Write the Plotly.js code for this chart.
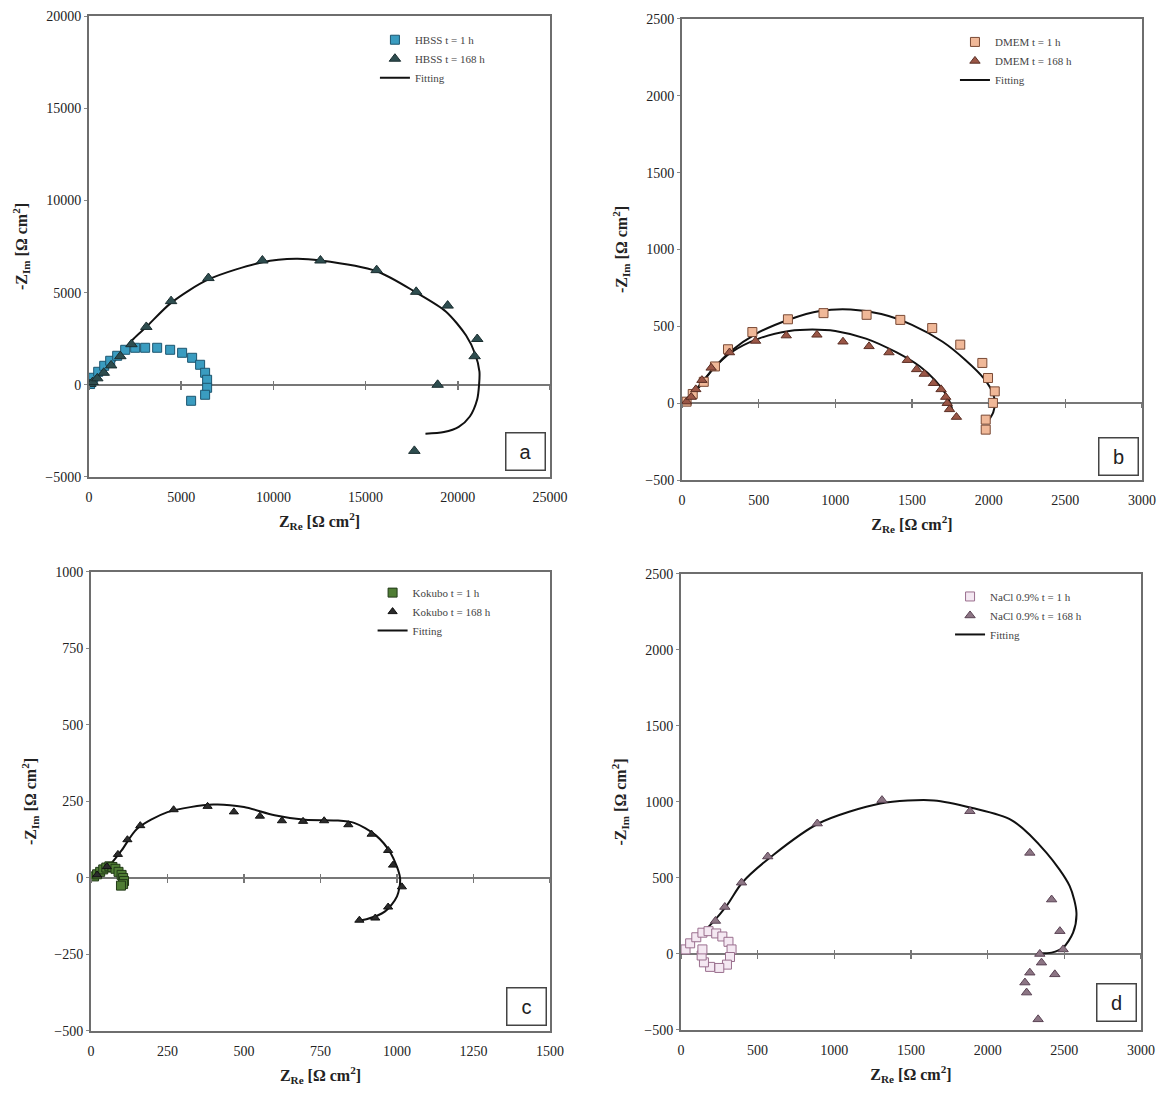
<!DOCTYPE html>
<html><head><meta charset="utf-8">
<script src="https://cdn.plot.ly/plotly-3.0.1.min.js"></script>
<style>body{margin:0;background:#fff}#chart{width:1168px;height:1097px}</style>
</head><body><div id="chart"></div>
<script>
// ---------- Panel a: HBSS ----------
const aSq1hX = [60,130,228,499,824,1149,1528,1962,2504,3045,3696,4400,5050,5592,6026,6297,6405,6405,6297,5538];
const aSq1hY = [40,150,380,705,1030,1302,1573,1898,2007,2007,2007,1898,1735,1464,1085,651,271,-163,-542,-868];
const aTr168X = [60,200,450,800,1200,1700,2300,3108,4451,6476,9403,12551,15599,17744,19449,21053,20912,18907,17644];
const aTr168Y = [40,150,350,650,1050,1550,2200,3137,4537,5788,6740,6740,6217,5041,4294,2483,1550,0,-3585];
const aFitX = [0,1203,2406,3108,4451,6476,9403,11228,12551,15599,17744,19348,20451,20952,21173,21153,21053,20652,20050,19248,18246];
const aFitY = [0,1083,2483,3137,4443,5713,6647,6833,6740,6161,5004,3977,2670,1643,709,0,-784,-1718,-2278,-2558,-2651];

// ---------- Panel b: DMEM ----------
const bSq1hX = [30,70,142,215,300,459,691,923,1204,1424,1632,1815,1959,1996,2040,2028,1981,1981];
const bSq1hY = [10,60,139,239,351,463,546,586,575,542,489,381,262,164,77,2,-107,-172];
const bTr168X = [30,60,90,130,190,310,480,680,880,1050,1220,1350,1470,1530,1580,1640,1690,1720,1730,1745,1790];
const bTr168Y = [10,40,90,150,230,330,405,440,445,400,370,330,280,220,190,130,90,40,0,-40,-90];
const bFit1X = [0,100,200,320,480,700,900,1100,1300,1500,1700,1850,1970,2030,2040,2030,1995];
const bFit1Y = [0,90,220,340,450,545,600,610,580,510,400,280,160,60,0,-60,-120];
const bFit168X = [0,100,200,320,500,700,850,1000,1200,1400,1550,1650,1720,1750,1765];
const bFit168Y = [0,100,220,330,420,470,480,470,420,330,240,150,60,0,-50];

// ---------- Panel c: Kokubo ----------
const cSq1hX = [10,20,30,40,50,60,70,80,90,100,105,108,105,98];
const cSq1hY = [5,12,20,28,34,38,36,30,20,10,0,-10,-20,-25];
const cTr168X = [20,52,88,119,161,270,381,467,552,624,693,762,841,917,971,987,1016,971,929,877];
const cTr168Y = [10,37,77,125,171,223,234,216,202,187,185,187,174,143,90,42,-29,-95,-131,-138];
const cFitX = [0,50,100,150,250,400,500,600,700,800,860,930,980,1010,1000,960,900,870];
const cFitY = [0,30,90,160,215,240,232,205,190,188,180,140,80,0,-60,-110,-135,-140];

// ---------- Panel d: NaCl 0.9% ----------
const dSq1hX = [30,60,100,140,180,230,270,310,330,320,300,250,190,150,135,140];
const dSq1hY = [30,70,110,140,150,135,115,80,30,-20,-70,-92,-85,-55,-10,30];
const dTr168X = [225,286,395,566,889,1311,1884,2275,2417,2471,2492,2340,2351,2275,2438,2243,2254,2329];
const dTr168Y = [217,309,469,641,858,1012,939,665,358,150,30,0,-57,-123,-134,-188,-254,-430];
const dFitX = [0,100,200,300,400,600,900,1300,1650,1900,2155,2384,2535,2579,2557,2492,2417,2340];
const dFitY = [0,100,200,320,470,650,860,990,1010,960,881,665,446,271,140,41,9,4];

// ---------- axes settings ----------
const xRanges = [[0,25000],[0,3000],[0,1500],[0,3000]];
const yRanges = [[-5000,20000],[-500,2500],[-500,1000],[-500,2500]];
const xDticks = [5000,500,250,500];
const yDticks = [5000,500,250,500];
const xDomains = [[0.0762,0.4709],[0.5839,0.9777],[0.0779,0.4709],[0.5830,0.9769]];
const yDomains = [[0.5652,0.9854],[0.5624,0.9827],[0.0602,0.4786],[0.0611,0.4768]];
const panelLetters = ['a','b','c','d'];
const letterPos = [[525,451],[1118,456],[526,1006],[1116,1003]];
const legendPos = [[0.321,0.977],[0.8176,0.975],[0.319,0.473],[0.8134,0.4695]];
const names1h = ['HBSS t = 1 h','DMEM t = 1 h','Kokubo t = 1 h','NaCl 0.9% t = 1 h'];
const names168 = ['HBSS t = 168 h','DMEM t = 168 h','Kokubo t = 168 h','NaCl 0.9% t = 168 h'];

const W = 1168, H = 1097;
const serif = 'Liberation Serif, Times New Roman, serif';
const frameColor = '#6e6e6e';

const sqStyle = [
  {color:'#3a9cc0', line:{color:'#1d5670', width:1}},
  {color:'#f0b898', line:{color:'#7a4a35', width:1}},
  {color:'#4f7d34', line:{color:'#223a18', width:1}},
  {color:'#f4e8f2', line:{color:'#9a6f8e', width:1}}
];
const trStyle = [
  {color:'#2e4d4f', line:{color:'#1b2e30', width:1}},
  {color:'#9a5646', line:{color:'#5a2e24', width:1}},
  {color:'#2b2b2b', line:{color:'#111', width:1}},
  {color:'#8c7584', line:{color:'#5b4455', width:1}}
];
const sqSize = [9,9,9,9];
const trSize = [10,9,8,9];

const sqX = [aSq1hX,bSq1hX,cSq1hX,dSq1hX], sqY = [aSq1hY,bSq1hY,cSq1hY,dSq1hY];
const trX = [aTr168X,bTr168X,cTr168X,dTr168X], trY = [aTr168Y,bTr168Y,cTr168Y,dTr168Y];
const fits = [
  [[aFitX,aFitY]],
  [[bFit1X,bFit1Y],[bFit168X,bFit168Y]],
  [[cFitX,cFitY]],
  [[dFitX,dFitY]]
];

const data = [];
const layout = {
  width: W, height: H,
  margin: {l:0,r:0,t:0,b:0},
  paper_bgcolor: '#fff', plot_bgcolor: '#fff',
  font: {family: serif, size: 14, color: '#222'},
  showlegend: true,
  annotations: [], shapes: []
};

for (let i = 0; i < 4; i++) {
  const n = i + 1;
  const xa = n === 1 ? 'x' : 'x' + n;
  const ya = n === 1 ? 'y' : 'y' + n;
  const lg = n === 1 ? 'legend' : 'legend' + n;
  data.push({type:'scatter', mode:'lines', x: fits[i][0][0], y: fits[i][0][1], xaxis: xa, yaxis: ya,
    line:{color:'#111', width:2, shape:'spline', smoothing:0.8}, name:'Fitting', legend: lg, legendrank: 3});
  for (let k = 1; k < fits[i].length; k++) {
    data.push({type:'scatter', mode:'lines', x: fits[i][k][0], y: fits[i][k][1], xaxis: xa, yaxis: ya,
      line:{color:'#111', width:2, shape:'spline', smoothing:0.8}, name:'Fitting', showlegend:false, legend: lg});
  }
  data.push({type:'scatter', mode:'markers', x: sqX[i], y: sqY[i], xaxis: xa, yaxis: ya, name: names1h[i], legend: lg, legendrank: 1,
    marker: Object.assign({symbol:'square', size: sqSize[i]}, sqStyle[i])});
  data.push({type:'scatter', mode:'markers', x: trX[i], y: trY[i], xaxis: xa, yaxis: ya, name: names168[i], legend: lg, legendrank: 2,
    marker: Object.assign({symbol:'triangle-up', size: trSize[i]}, trStyle[i])});

  const xKey = n === 1 ? 'xaxis' : 'xaxis' + n;
  const yKey = n === 1 ? 'yaxis' : 'yaxis' + n;
  layout[xKey] = {
    domain: xDomains[i], anchor: ya, range: xRanges[i], dtick: xDticks[i], tick0: 0,
    tickformat: 'd', showgrid: false, zeroline: false,
    showline: true, mirror: true, linecolor: frameColor, linewidth: 2,
    ticks: 'outside', ticklen: 6, tickcolor: 'rgba(0,0,0,0)',
    tickfont: {family: serif, size: 14, color: '#222'},
    title: {text: 'Z<sub>Re</sub> [Ω cm<sup>2</sup>]', font: {family: serif, size: 16, color: '#222', weight: 'bold'}, standoff: 12}
  };
  layout[yKey] = {
    domain: yDomains[i], anchor: xa, range: yRanges[i], dtick: yDticks[i], tick0: 0,
    tickformat: 'd', showgrid: false, zeroline: true, zerolinecolor: '#777', zerolinewidth: 1.5,
    showline: true, mirror: true, linecolor: frameColor, linewidth: 2,
    ticks: 'outside', ticklen: 3, tickcolor: '#888',
    tickfont: {family: serif, size: 14, color: '#222'},
    title: {text: '-Z<sub>Im</sub> [Ω cm<sup>2</sup>]', font: {family: serif, size: 16, color: '#222', weight: 'bold'}, standoff: 14}
  };
  // tick marks along the zero line (crossing both sides)
  const yr = yRanges[i], yd = yDomains[i];
  const pos0 = yd[0] + (0 - yr[0]) / (yr[1] - yr[0]) * (yd[1] - yd[0]);
  ['inside','outside'].forEach((t, j) => {
    const key = 'xaxis' + (5 + i * 2 + j);
    layout[key] = {overlaying: xa, anchor: 'free', position: pos0, range: xRanges[i], dtick: xDticks[i], tick0: 0,
      showgrid: false, zeroline: false, showline: false, showticklabels: false,
      ticks: t, ticklen: 4, tickwidth: 1.5, tickcolor: '#777', domain: xDomains[i]};
    data.push({type:'scatter', mode:'markers', x: [], y: [], xaxis: 'x' + (5 + i * 2 + j), yaxis: ya, showlegend: false, hoverinfo: 'skip'});
  });

  layout[lg] = {
    x: legendPos[i][0], y: legendPos[i][1], xanchor: 'left', yanchor: 'top',
    bgcolor: 'rgba(0,0,0,0)', borderwidth: 0, tracegroupgap: 0, itemwidth: 30,
    font: {family: serif, size: 11, color: '#444'}, traceorder: 'normal'
  };

  layout.annotations.push({
    xref: 'paper', yref: 'paper', x: letterPos[i][0] / W, y: 1 - letterPos[i][1] / H,
    xanchor: 'center', yanchor: 'middle', text: panelLetters[i], showarrow: false,
    font: {family: 'Liberation Sans, Arial, sans-serif', size: 20, color: '#222'},
    bordercolor: '#444', borderwidth: 1.5, borderpad: 6, bgcolor: '#fff', width: 26, height: 24
  });
}

Plotly.newPlot('chart', data, layout, {displayModeBar: false, staticPlot: true});
</script>
</body></html>
